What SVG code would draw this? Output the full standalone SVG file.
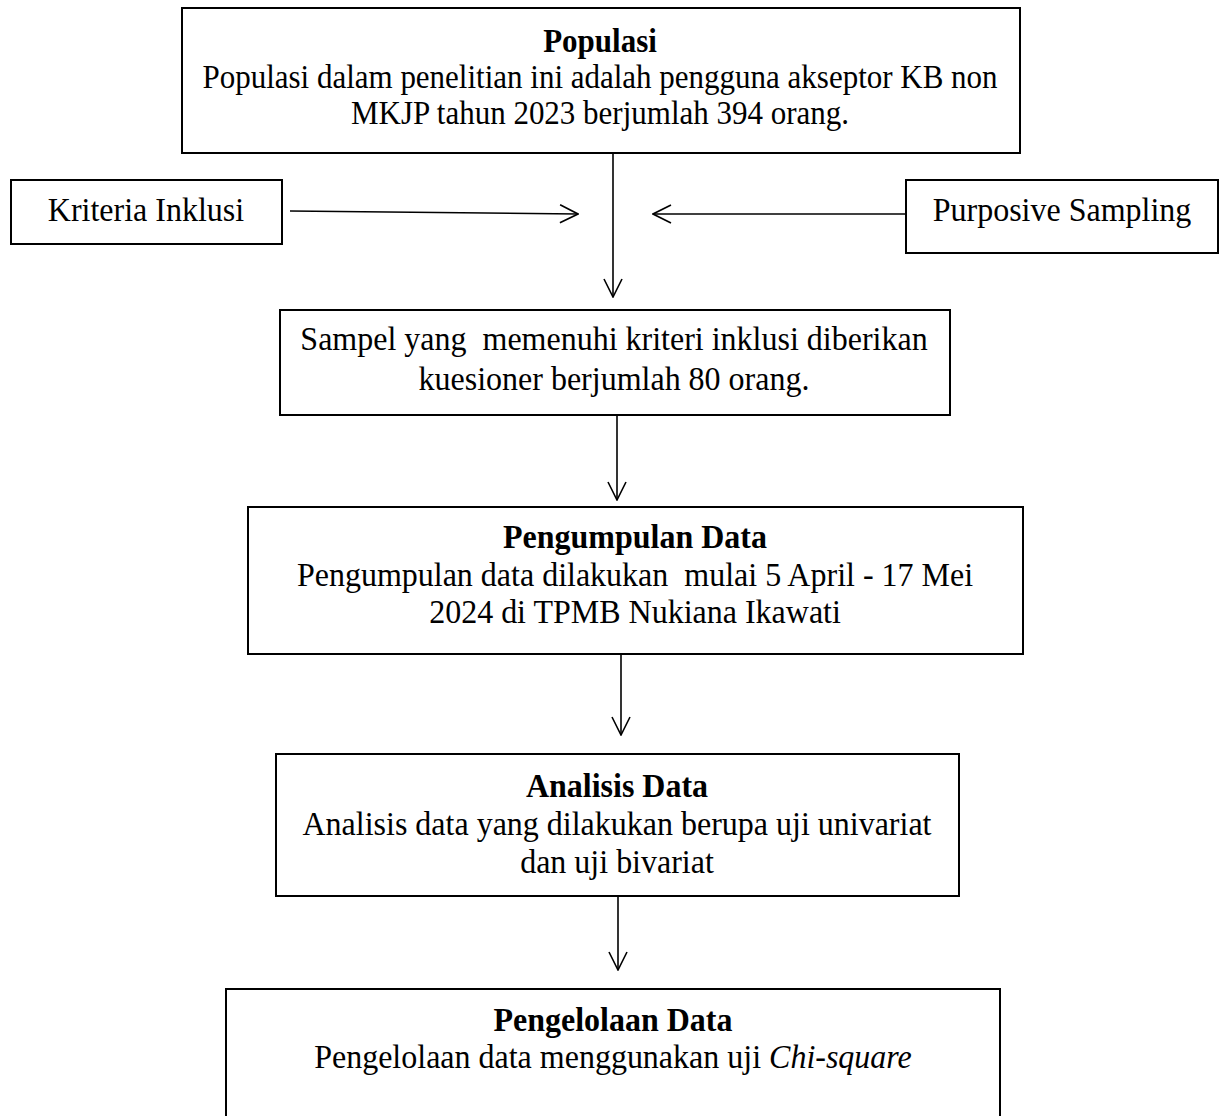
<svg xmlns="http://www.w3.org/2000/svg" width="1227" height="1116" viewBox="0 0 1227 1116">
<style>
.box{fill:#fff;stroke:#000;stroke-width:2}
.t{font-family:"Liberation Serif","Times New Roman",serif;font-size:32px;fill:#000;text-anchor:middle}
.s{font-size:31px}
.b{font-weight:bold}
.c{fill:none;stroke:#000;stroke-width:1.6}
</style>
<defs>
<marker id="ah" viewBox="0 0 20 20" refX="19" refY="10" markerWidth="20" markerHeight="20" markerUnits="userSpaceOnUse" orient="auto">
<path d="M1,1 L19,10 L1,19" fill="none" stroke="#000" stroke-width="1.6"/>
</marker>
</defs>
<rect width="1227" height="1116" fill="#fff"/>
<g id="connectors">
<line class="c" x1="613" y1="153" x2="613" y2="297" marker-end="url(#ah)"/>
<line class="c" x1="290" y1="211" x2="578" y2="214" marker-end="url(#ah)"/>
<line class="c" x1="906" y1="214" x2="653" y2="214" marker-end="url(#ah)"/>
<line class="c" x1="617" y1="415" x2="617" y2="500" marker-end="url(#ah)"/>
<line class="c" x1="621" y1="654" x2="621" y2="735" marker-end="url(#ah)"/>
<line class="c" x1="618" y1="896" x2="618" y2="970" marker-end="url(#ah)"/>
</g>
<g id="populasi">
<rect class="box" x="182" y="8" width="838" height="145"/>
<text class="t s b" transform="translate(600,52) scale(1,1.08)">Populasi</text>
<text class="t s" transform="translate(600,88) scale(1,1.08)">Populasi dalam penelitian ini adalah pengguna akseptor KB non</text>
<text class="t s" transform="translate(600,124) scale(1,1.08)">MKJP tahun 2023 berjumlah 394 orang.</text>
</g>
<g id="kriteria">
<rect class="box" x="11" y="180" width="271" height="64"/>
<text class="t" transform="translate(146,221) scale(1,1.08)">Kriteria Inklusi</text>
</g>
<g id="purposive">
<rect class="box" x="906" y="180" width="312" height="73"/>
<text class="t" transform="translate(1062,221) scale(1,1.08)">Purposive Sampling</text>
</g>
<g id="sampel">
<rect class="box" x="280" y="310" width="670" height="105"/>
<text class="t" transform="translate(614,350) scale(1,1.08)" xml:space="preserve">Sampel yang  memenuhi kriteri inklusi diberikan</text>
<text class="t" transform="translate(614,390) scale(1,1.08)">kuesioner berjumlah 80 orang.</text>
</g>
<g id="pengumpulan">
<rect class="box" x="248" y="507" width="775" height="147"/>
<text class="t b" transform="translate(635,548) scale(1,1.08)">Pengumpulan Data</text>
<text class="t" transform="translate(635,586) scale(1,1.08)" xml:space="preserve">Pengumpulan data dilakukan  mulai 5 April - 17 Mei</text>
<text class="t" transform="translate(635,623) scale(1,1.08)">2024 di TPMB Nukiana Ikawati</text>
</g>
<g id="analisis">
<rect class="box" x="276" y="754" width="683" height="142"/>
<text class="t b" transform="translate(617,797) scale(1,1.08)">Analisis Data</text>
<text class="t" transform="translate(617,835) scale(1,1.08)">Analisis data yang dilakukan berupa uji univariat</text>
<text class="t" transform="translate(617,873) scale(1,1.08)">dan uji bivariat</text>
</g>
<g id="pengelolaan">
<rect class="box" x="226" y="989" width="774" height="140"/>
<text class="t b" transform="translate(613,1031) scale(1,1.08)">Pengelolaan Data</text>
<text class="t" transform="translate(613,1068) scale(1,1.08)">Pengelolaan data menggunakan uji <tspan font-style="italic">Chi-square</tspan></text>
</g>
</svg>
